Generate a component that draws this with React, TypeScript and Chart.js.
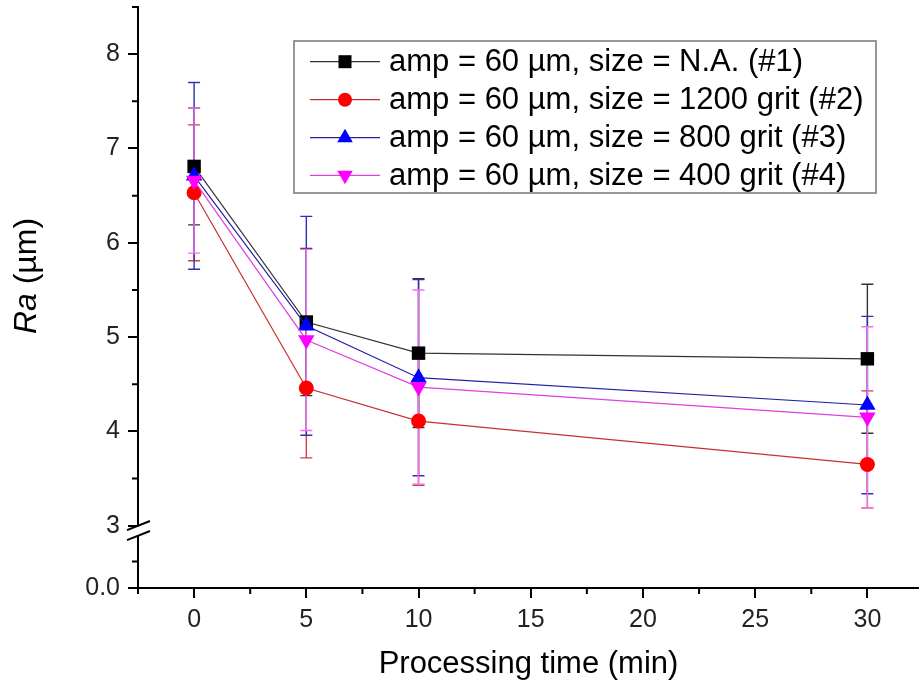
import React, { useEffect, useRef } from "react";
import { Chart, registerables } from "chart.js";

Chart.register(...registerables);

// ---- data ----
const times = [0, 5, 10, 30];
const seriesLabels = [
  "amp = 60 µm, size = N.A. (#1)",
  "amp = 60 µm, size = 1200 grit (#2)",
  "amp = 60 µm, size = 800 grit (#3)",
  "amp = 60 µm, size = 400 grit (#4)",
];
const raNA = [6.81, 5.16, 4.83, 4.77];
const ra1200 = [6.53, 4.46, 4.11, 3.65];
const ra800 = [6.71, 5.12, 4.57, 4.28];
const ra400 = [6.66, 4.97, 4.47, 4.15];
const errNAUp = [0.62, 0.78, 0.79, 0.79];
const errNADown = [0.62, 0.78, 0.79, 0.79];
const err1200Up = [0.72, 0.74, 0.68, 0.78];
const err1200Down = [0.72, 0.74, 0.68, 0.46];
const err800Up = [0.99, 1.16, 1.04, 0.94];
const err800Down = [0.99, 1.16, 1.04, 0.94];
const err400Up = [0.77, 0.96, 1.03, 0.96];
const err400Down = [0.77, 0.96, 1.03, 0.96];

const xMajorTicks = [0, 5, 10, 15, 20, 25, 30];
const xMinorTicks = [-2.5, 2.5, 7.5, 12.5, 17.5, 22.5, 27.5];
const yMajorTicks = [3, 4, 5, 6, 7, 8];
const yMinorTicks = [3.5, 4.5, 5.5, 6.5, 7.5, 8.5];
// lower (broken) segment of the y axis: position of the "0.0" tick and its minor tick
const yZeroPos = 2.34;
const yZeroMinorPos = 2.62;
const yZeroLabel = "0.0";
const yBreakAt = 3;

const colors = ["#000000", "#ff0000", "#0000ff", "#ff00ff"];
const lineColors = ["#333333", "#c83030", "#2020a8", "#e040e0"];
const errColors = ["#333333", "#d04040", "#3030b0", "#f070f0"];
const pointStyles = ["rect", "circle", "triangle", "triangle"];
const pointRotations = [0, 0, 0, 180];
const pointRadii = [9.5, 7.5, 9.5, 9.5];

const seriesValues = [raNA, ra1200, ra800, ra400];
const seriesErrUp = [errNAUp, err1200Up, err800Up, err400Up];
const seriesErrDown = [errNADown, err1200Down, err800Down, err400Down];

const FONT = "'Liberation Sans', Arial, sans-serif";

function drawMarker(ctx: CanvasRenderingContext2D, kind: number, x: number, y: number) {
  ctx.save();
  ctx.fillStyle = colors[kind];
  ctx.beginPath();
  if (kind === 0) {
    const s = 6.5;
    ctx.rect(x - s, y - s, 2 * s, 2 * s);
  } else if (kind === 1) {
    ctx.arc(x, y, 7, 0, Math.PI * 2);
  } else {
    const r = 9;
    const dir = kind === 2 ? 1 : -1;
    ctx.moveTo(x, y - dir * r);
    ctx.lineTo(x + r * 0.866, y + dir * r * 0.5);
    ctx.lineTo(x - r * 0.866, y + dir * r * 0.5);
    ctx.closePath();
  }
  ctx.fill();
  ctx.restore();
}

const decorPlugin = {
  id: "decor",
  beforeDatasetsDraw(chart: any) {
    const ctx: CanvasRenderingContext2D = chart.ctx;
    const xs = chart.scales.x;
    const ys = chart.scales.y;
    ctx.save();
    for (let s = 0; s < seriesValues.length; s++) {
      ctx.strokeStyle = errColors[s];
      ctx.lineWidth = 1.4;
      for (let i = 0; i < times.length; i++) {
        const v = seriesValues[s][i];
        const px = xs.getPixelForValue(times[i]);
        const yt = ys.getPixelForValue(v + seriesErrUp[s][i]);
        const yb = ys.getPixelForValue(v - seriesErrDown[s][i]);
        ctx.beginPath();
        ctx.moveTo(px, yt);
        ctx.lineTo(px, yb);
        ctx.moveTo(px - 6, yt);
        ctx.lineTo(px + 6, yt);
        ctx.moveTo(px - 6, yb);
        ctx.lineTo(px + 6, yb);
        ctx.stroke();
      }
    }
    ctx.restore();
  },
  afterDraw(chart: any) {
    const ctx: CanvasRenderingContext2D = chart.ctx;
    const xs = chart.scales.x;
    const ys = chart.scales.y;
    const area = chart.chartArea;
    ctx.save();
    // minor ticks
    ctx.strokeStyle = "#000";
    ctx.lineWidth = 2;
    ctx.beginPath();
    for (const v of [...yMinorTicks, yZeroMinorPos]) {
      const py = ys.getPixelForValue(v);
      ctx.moveTo(area.left - 6, py);
      ctx.lineTo(area.left, py);
    }
    for (const v of xMinorTicks) {
      const px = xs.getPixelForValue(v);
      ctx.moveTo(px, area.bottom);
      ctx.lineTo(px, area.bottom + 6);
    }
    ctx.stroke();

    // axis break
    const yb = ys.getPixelForValue(yBreakAt) + 5;
    const x0 = area.left - 11;
    const x1 = area.left + 12;
    const slope = -0.4;
    ctx.fillStyle = "#fff";
    ctx.beginPath();
    ctx.moveTo(x0, yb - 5 - slope * 11);
    ctx.lineTo(x1, yb - 5 + slope * 12);
    ctx.lineTo(x1, yb + 5 + slope * 12);
    ctx.lineTo(x0, yb + 5 - slope * 11);
    ctx.closePath();
    ctx.fill();
    ctx.lineWidth = 2;
    ctx.beginPath();
    ctx.moveTo(x0, yb - 5 - slope * 11);
    ctx.lineTo(x1, yb - 5 + slope * 12);
    ctx.moveTo(x0, yb + 5 - slope * 11);
    ctx.lineTo(x1, yb + 5 + slope * 12);
    ctx.stroke();

    // legend
    const lx = 294, ly = 41, lw = 582, lh = 152;
    ctx.strokeStyle = "#777";
    ctx.lineWidth = 1.5;
    ctx.strokeRect(lx, ly, lw, lh);
    const rows = [61.7, 99.7, 137.7, 175.3];
    ctx.font = `31px ${FONT}`;
    ctx.textBaseline = "middle";
    ctx.textAlign = "left";
    for (let s = 0; s < seriesLabels.length; s++) {
      const ry = rows[s];
      ctx.strokeStyle = lineColors[s];
      ctx.lineWidth = 1.2;
      ctx.beginPath();
      ctx.moveTo(310, ry);
      ctx.lineTo(380, ry);
      ctx.stroke();
      drawMarker(ctx, s, 345, ry);
      ctx.fillStyle = "#000";
      ctx.fillText(seriesLabels[s], 389, ry + 1);
    }

    // y title with italic Ra
    ctx.save();
    ctx.translate(27, 276);
    ctx.rotate(-Math.PI / 2);
    const italic = `italic 32px ${FONT}`;
    const normal = `32px ${FONT}`;
    ctx.font = italic;
    const w1 = ctx.measureText("Ra").width;
    ctx.font = normal;
    const w2 = ctx.measureText(" (µm)").width;
    const start = -(w1 + w2) / 2;
    ctx.fillStyle = "#000";
    ctx.textBaseline = "middle";
    ctx.font = italic;
    ctx.fillText("Ra", start, 0);
    ctx.font = normal;
    ctx.fillText(" (µm)", start + w1, 0);
    ctx.restore();

    // x title
    ctx.font = `31px ${FONT}`;
    ctx.fillStyle = "#000";
    ctx.textAlign = "center";
    ctx.textBaseline = "middle";
    ctx.fillText("Processing time (min)", (area.left + area.right) / 2, 664);
    ctx.restore();
  },
};

export default function App() {
  const ref = useRef<HTMLCanvasElement | null>(null);
  useEffect(() => {
    if (!ref.current) return;
    const datasets = seriesValues.map((vals, s) => ({
      label: seriesLabels[s],
      data: times.map((t, i) => ({ x: t, y: vals[i] })),
      borderColor: lineColors[s],
      borderWidth: 1.2,
      backgroundColor: colors[s],
      pointBackgroundColor: colors[s],
      pointBorderColor: colors[s],
      pointBorderWidth: 0,
      pointStyle: pointStyles[s],
      pointRotation: pointRotations[s],
      pointRadius: pointRadii[s],
      pointHoverRadius: pointRadii[s],
      tension: 0,
      fill: false,
      clip: false,
      order: 4 - s,
    }));
    const chart = new Chart(ref.current, {
      type: "line",
      data: { datasets },
      plugins: [decorPlugin],
      options: {
        animation: false,
        responsive: false,
        maintainAspectRatio: false,
        layout: { autoPadding: false, padding: { top: 7, right: 0, left: 0, bottom: 0 } },
        plugins: { legend: { display: false }, tooltip: { enabled: false } },
        scales: {
          x: {
            type: "linear",
            min: -2.5,
            max: 32.3,
            afterBuildTicks: (s: any) => {
              s.ticks = xMajorTicks.map((v) => ({ value: v }));
            },
            afterFit: (s: any) => {
              s.height = 98;
              s.paddingLeft = 0;
              s.paddingRight = 0;
            },
            ticks: {
              font: { family: FONT, size: 25 },
              color: "#222",
              padding: 7,
              maxRotation: 0,
              autoSkip: false,
              callback: (v: any) => String(v),
            },
            grid: { drawOnChartArea: false, tickLength: 10, color: "#000", lineWidth: 2 },
            border: { color: "#000", width: 2 },
          },
          y: {
            type: "linear",
            min: yZeroPos,
            max: 8.5,
            afterBuildTicks: (s: any) => {
              s.ticks = [yZeroPos, ...yMajorTicks].map((v) => ({ value: v }));
            },
            afterFit: (s: any) => {
              s.width = 138;
              s.paddingTop = 0;
              s.paddingBottom = 0;
            },
            ticks: {
              font: { family: FONT, size: 25 },
              color: "#222",
              padding: 8,
              autoSkip: false,
              callback: (v: any) => (v < yBreakAt - 0.1 ? yZeroLabel : String(v)),
            },
            grid: { drawOnChartArea: false, tickLength: 10, color: "#000", lineWidth: 2 },
            border: { color: "#000", width: 2 },
          },
        },
      },
    });
    return () => chart.destroy();
  }, []);
  return (
    <div style={{ position: "fixed", left: 0, top: 0, width: 919, height: 686, background: "#fff" }}>
      <canvas ref={ref} width={919} height={686} style={{ width: 919, height: 686 }} />
    </div>
  );
}
